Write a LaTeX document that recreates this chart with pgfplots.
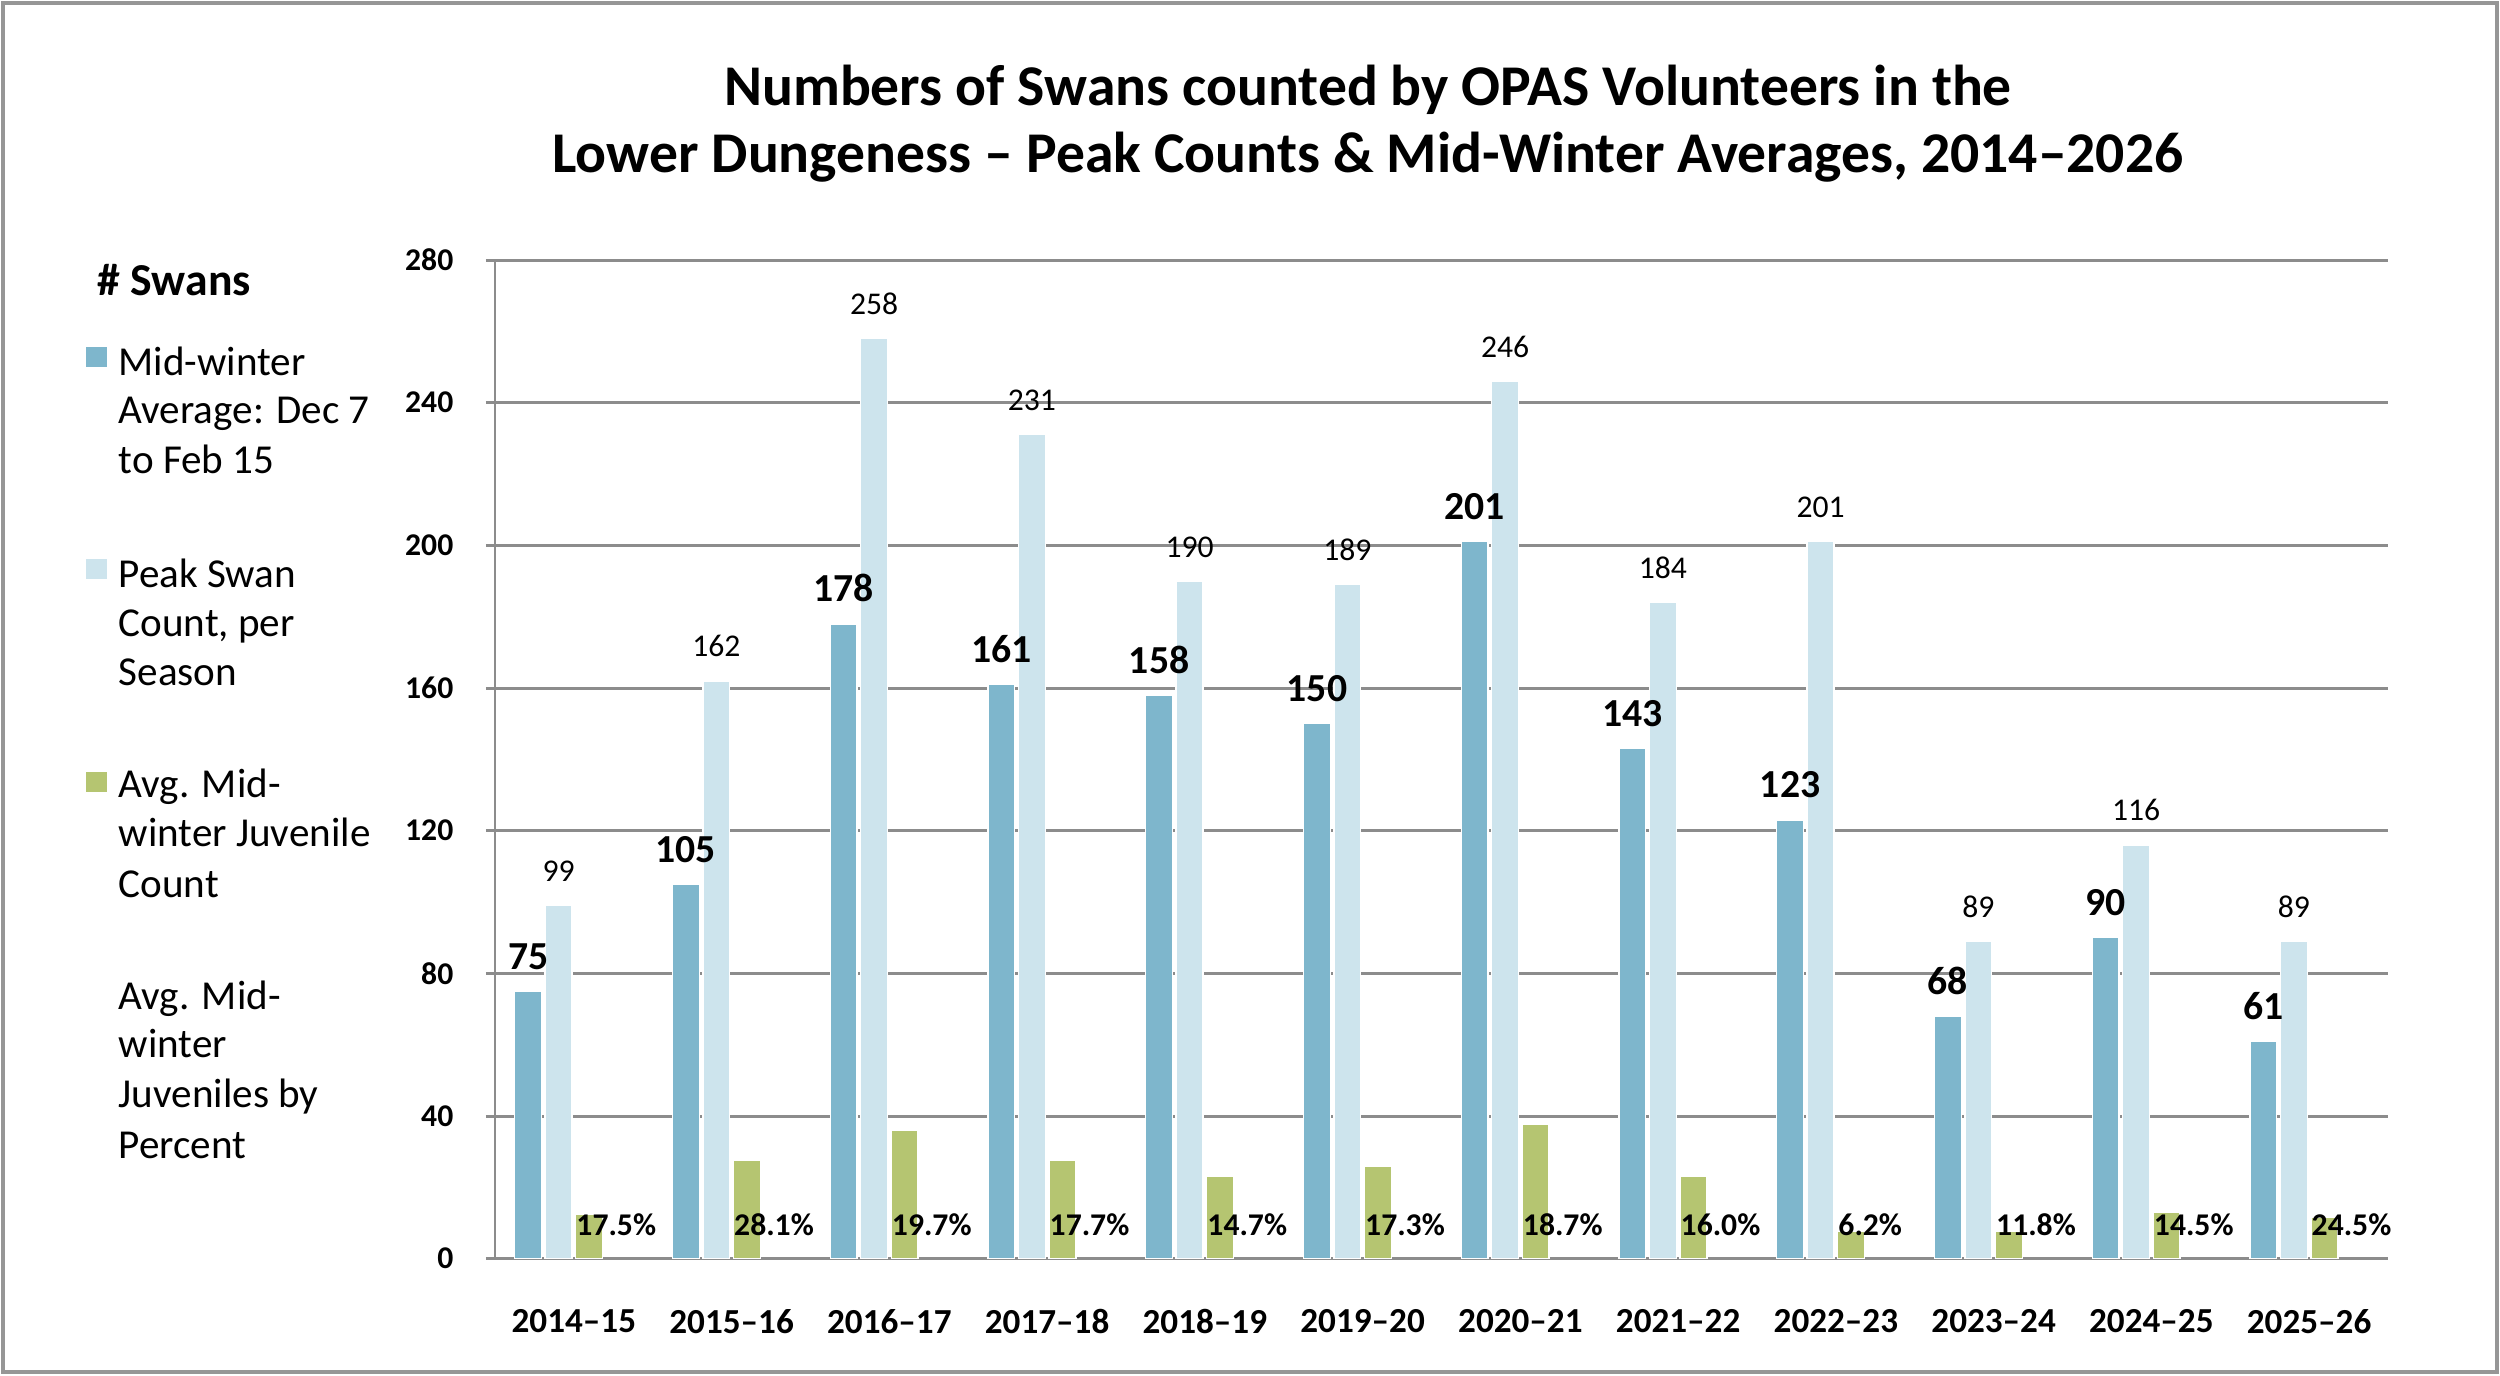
\documentclass[border=0pt]{standalone}
\usepackage{fontspec}
\setmainfont{Carlito}
\usepackage{pgfplots}
\pgfplotsset{compat=1.18}
\definecolor{cdark}{RGB}{126,182,204}
\definecolor{clight}{RGB}{205,228,237}
\definecolor{cgreen}{RGB}{181,197,113}
\definecolor{cgrid}{RGB}{140,140,140}
\definecolor{cframe}{RGB}{150,150,150}
\begin{document}
\begin{tikzpicture}
\begin{scope}[x=0.1mm,y=0.1mm]
\path[use as bounding box] (0,0) rectangle (2500,1375);
\draw[cframe, line width=0.35mm] (3,3) rectangle (2497,1372);
% title
\node[anchor=base, inner sep=0pt, font=\fontsize{16.4}{19}\selectfont\bfseries] at (1368,1269) {Numbers of Swans counted by OPAS Volunteers in the};
\node[anchor=base, inner sep=0pt, font=\fontsize{16.4}{19}\selectfont\bfseries] at (1368,1202) {Lower Dungeness – Peak Counts \& Mid-Winter Averages, 2014–2026};
% legend
\node[anchor=base west, inner sep=0pt, font=\fontsize{13}{15}\selectfont\bfseries] at (97,1079) {\# Swans};
\fill[cdark] (86,1008) rectangle (107,1028);
\fill[clight] (86,796) rectangle (107,816);
\fill[cgreen] (86,583) rectangle (107,603);
\begin{scope}[every node/.style={anchor=base west, inner sep=0pt, font=\fontsize{11.7}{14}\selectfont}]
\node at (118,999) {Mid-winter};
\node at (118,951) {Average: Dec 7};
\node at (118,901) {to Feb 15};
\node at (118,787) {Peak Swan};
\node at (118,738) {Count, per};
\node at (118,689) {Season};
\node at (118,577) {Avg. Mid-};
\node at (118,529) {winter Juvenile};
\node at (118,478) {Count};
\node at (118,366) {Avg. Mid-};
\node at (118,318) {winter};
\node at (118,268) {Juveniles by};
\node at (118,217) {Percent};
\end{scope}
\end{scope}
\begin{axis}[
  at={(49.5mm,11.63mm)}, anchor=south west,
  scale only axis, width=189.3mm, height=99.87mm,
  xmin=-0.5, xmax=11.5, ymin=0, ymax=280,
  ytick={0,40,...,280},
  xtick={0,...,11},
  xticklabels={2014–15,2015–16,2016–17,2017–18,2018–19,2019–20,2020–21,2021–22,2022–23,2023–24,2024–25,2025–26},
  axis lines*=left,
  axis line style={-, cgrid, line width=0.85pt},
  ymajorgrids, grid style={cgrid, line width=0.85pt},
  major tick length=0.9mm, tick align=outside,
  ytick style={cgrid, line width=0.85pt},
  xtick style={draw=none},
  /pgf/number format/assume math mode=true,
  yticklabel style={font=\fontsize{9}{10}\selectfont\bfseries, anchor=east, inner sep=0pt, xshift=-3.2mm},
  xticklabel style={font=\fontsize{10}{12}\selectfont\bfseries, anchor=north, inner sep=0pt, yshift=-4.1mm},
  bar width=0.17,
  clip=false,
]
\addplot[ybar, bar shift=-0.29, fill=cdark, draw=white, line width=0.4pt,
  nodes near coords,
  nodes near coords style={font=\fontsize{11.3}{13}\selectfont\bfseries, anchor=base, inner sep=0pt, xshift=-4.57mm, yshift=2.2mm, text=black, draw=none}]
  coordinates {(0,75) (1,105) (2,178) (3,161) (4,158) (5,150) (6,201) (7,143) (8,123) (9,68) (10,90) (11,61)};
\addplot[ybar, bar shift=-0.097, fill=clight, draw=white, line width=0.4pt,
  nodes near coords,
  nodes near coords style={font=\fontsize{9}{10}\selectfont, anchor=base, inner sep=0pt, xshift=-1.53mm, yshift=2.4mm, text=black, draw=none}]
  coordinates {(0,99) (1,162) (2,258) (3,231) (4,190) (5,189) (6,246) (7,184) (8,201) (9,89) (10,116) (11,89)};
\addplot[ybar, bar shift=0.097, fill=cgreen, draw=white, line width=0.4pt]
  coordinates {(0,12.5) (1,27.7) (2,35.9) (3,27.7) (4,23.1) (5,25.9) (6,37.6) (7,23.1) (8,7.7) (9,7.7) (10,13) (11,11.5)};
\addplot[only marks, mark=none, point meta=explicit symbolic,
  nodes near coords,
  nodes near coords style={anchor=base west, inner sep=0pt, font=\fontsize{9}{10}\selectfont\bfseries, text=black}]
  coordinates {(0.012,6.5) [17.5\%] (1.012,6.5) [28.1\%] (2.012,6.5) [19.7\%] (3.012,6.5) [17.7\%] (4.012,6.5) [14.7\%] (5.012,6.5) [17.3\%] (6.012,6.5) [18.7\%] (7.012,6.5) [16.0\%] (8.012,6.5) [6.2\%] (9.012,6.5) [11.8\%] (10.012,6.5) [14.5\%] (11.012,6.5) [24.5\%]};
\end{axis}
\end{tikzpicture}
\end{document}
